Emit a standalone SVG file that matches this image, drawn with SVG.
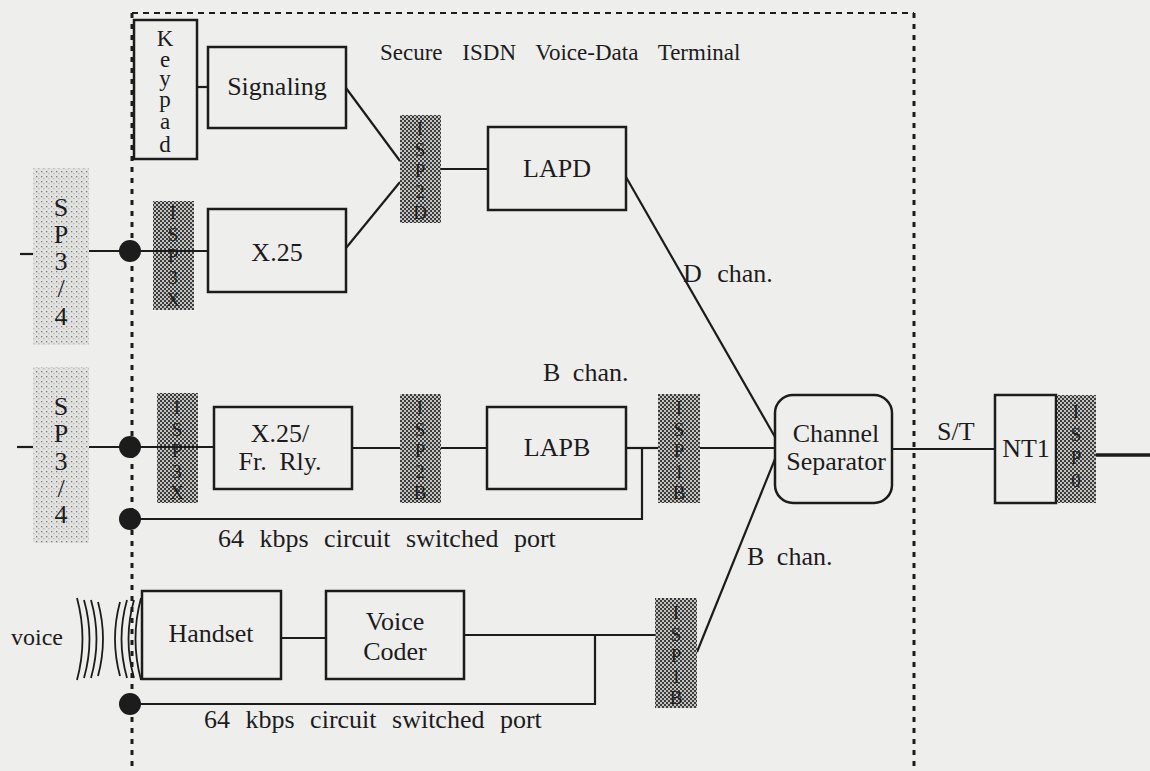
<svg xmlns="http://www.w3.org/2000/svg" width="1150" height="771" viewBox="0 0 1150 771" font-family="'Liberation Serif', 'Times New Roman', serif">
<defs>
<pattern id="dk" width="4" height="4" patternUnits="userSpaceOnUse"><rect width="4" height="4" fill="#c2c2c0"/><rect width="2" height="2" fill="#3c3c3c"/><rect x="2" y="2" width="2" height="2" fill="#3c3c3c"/></pattern>
<pattern id="lt" width="5" height="5" patternUnits="userSpaceOnUse"><rect width="5" height="5" fill="#e2e2e0"/><rect x="1" y="1" width="1.3" height="1.3" fill="#7c7c7c"/><rect x="3.4" y="3.2" width="1" height="1" fill="#9a9a9a"/></pattern>
<style>
.box{fill:none;stroke:#1c1c1c;stroke-width:2.5}
.ln{fill:none;stroke:#1c1c1c;stroke-width:2.2}
.t{font-family:"Liberation Serif","Times New Roman",serif;font-size:26px;fill:#1c1c1c}
.c{text-anchor:middle}
.isp{fill:url(#dk)}
.it{font-family:"Liberation Serif","Times New Roman",serif;font-size:19px;fill:#1e1e1e;text-anchor:middle}
.sp{fill:url(#lt)}
.st{font-family:"Liberation Serif","Times New Roman",serif;font-size:26px;fill:#1c1c1c;text-anchor:middle}
.kp{font-family:"Liberation Serif","Times New Roman",serif;font-size:23px;fill:#1c1c1c;text-anchor:middle}
.dot{fill:#1c1c1c}
</style>
</defs>
<rect width="1150" height="771" fill="#eeeeec"/>
<g id="boundary" fill="none" stroke="#1c1c1c">
<line x1="132" y1="13" x2="914" y2="13" stroke-width="2" stroke-dasharray="6 5"/>
<line x1="132" y1="13" x2="132" y2="771" stroke-width="3" stroke-dasharray="5 6"/>
<line x1="914" y1="13" x2="914" y2="771" stroke-width="3" stroke-dasharray="5 6"/>
</g>
<text id="title" class="t" x="380" y="60" style="font-size:23px" word-spacing="14">Secure ISDN Voice-Data Terminal</text>

<g id="connectors" class="ln">
<line x1="20" y1="254" x2="36" y2="254"/>
<line x1="17" y1="447" x2="36" y2="447"/>
<line x1="89" y1="251" x2="208" y2="251"/>
<line x1="89" y1="447" x2="214" y2="447"/>
<line x1="197" y1="87" x2="208" y2="87"/>
<line x1="346" y1="88" x2="400" y2="161"/>
<line x1="346" y1="248" x2="400" y2="182"/>
<line x1="441" y1="169" x2="488" y2="169"/>
<line x1="626" y1="177" x2="775" y2="437"/>
<line x1="352" y1="448" x2="400" y2="448"/>
<line x1="441" y1="448" x2="487" y2="448"/>
<line x1="626" y1="448" x2="658" y2="448"/>
<polyline points="130,519 642,519 642,448"/>
<line x1="700" y1="448" x2="775" y2="448"/>
<line x1="892" y1="449" x2="995" y2="449"/>
<line x1="1096" y1="455" x2="1150" y2="455" stroke-width="3.5"/>
<line x1="281" y1="638" x2="326" y2="638"/>
<line x1="464" y1="635" x2="655" y2="635"/>
<polyline points="130,704 595,704 595,635"/>
<line x1="697" y1="652" x2="775" y2="459"/>
</g>

<g id="voice-waves" fill="none" stroke="#1c1c1c" stroke-width="1.8">
<path d="M77 598 Q88 639 77 680"/>
<path d="M84 600 Q95 639 84 678"/>
<path d="M91 600 Q102 639 91 678"/>
<path d="M98 602 Q108 639 98 676"/>
<path d="M141 598 Q130 639 141 680"/>
<path d="M134 600 Q123 639 134 678"/>
<path d="M127 600 Q116 639 127 678"/>
<path d="M120 602 Q110 639 120 676"/>
</g>
<text id="voice" class="t" x="11" y="645" style="font-size:24px">voice</text>

<g id="sp34a"><rect class="sp" x="33" y="168" width="56" height="177"/>
<text class="st"><tspan x="61" y="216">S</tspan><tspan x="61" y="243">P</tspan><tspan x="61" y="270">3</tspan><tspan x="61" y="297">/</tspan><tspan x="61" y="325">4</tspan></text></g>
<g id="sp34b"><rect class="sp" x="33" y="367" width="56" height="176"/>
<text class="st"><tspan x="61" y="415">S</tspan><tspan x="61" y="442">P</tspan><tspan x="61" y="470">3</tspan><tspan x="61" y="497">/</tspan><tspan x="61" y="523">4</tspan></text></g>

<g id="port-dots">
<circle class="dot" cx="130" cy="251" r="11"/>
<circle class="dot" cx="130" cy="447" r="11"/>
<circle class="dot" cx="130" cy="519" r="11"/>
<circle class="dot" cx="130" cy="704" r="11"/>
</g>

<g id="keypad"><rect class="box" x="134" y="20" width="63" height="139"/>
<text class="kp"><tspan x="165" y="46">K</tspan><tspan x="165" y="67">e</tspan><tspan x="165" y="86">y</tspan><tspan x="165" y="107">p</tspan><tspan x="165" y="129">a</tspan><tspan x="165" y="152">d</tspan></text></g>
<g id="signaling"><rect class="box" x="208" y="47" width="138" height="81"/><text class="t c" x="277" y="95">Signaling</text></g>
<g id="x25"><rect class="box" x="208" y="209" width="138" height="83"/><text class="t c" x="277" y="261">X.25</text></g>
<g id="isp3x-a"><rect class="isp" x="153" y="201" width="41" height="109"/>
<text class="it"><tspan x="173" y="219">I</tspan><tspan x="173" y="241">S</tspan><tspan x="173" y="262">P</tspan><tspan x="173" y="284">3</tspan><tspan x="173" y="306">X</tspan></text>
<line x1="153" y1="251" x2="194" y2="251" stroke="#1c1c1c" stroke-width="2.2"/></g>
<g id="isp2d"><rect class="isp" x="400" y="115" width="41" height="108"/>
<text class="it"><tspan x="420" y="135">I</tspan><tspan x="420" y="156">S</tspan><tspan x="420" y="177">P</tspan><tspan x="420" y="198">2</tspan><tspan x="420" y="219">D</tspan></text></g>
<g id="lapd"><rect class="box" x="488" y="127" width="138" height="83"/><text class="t c" x="557" y="177">LAPD</text></g>

<g id="isp3x-b"><rect class="isp" x="157" y="393" width="41" height="110"/>
<text class="it"><tspan x="177" y="414">I</tspan><tspan x="177" y="436">S</tspan><tspan x="177" y="457">P</tspan><tspan x="177" y="478">3</tspan><tspan x="177" y="499">X</tspan></text>
<line x1="157" y1="447" x2="198" y2="447" stroke="#1c1c1c" stroke-width="2.2"/></g>
<g id="x25fr"><rect class="box" x="214" y="407" width="138" height="82"/>
<text class="t c"><tspan x="280" y="442">X.25/</tspan><tspan x="280" y="470" word-spacing="6">Fr. Rly.</tspan></text></g>
<g id="isp2b"><rect class="isp" x="400" y="394" width="41" height="109"/>
<text class="it"><tspan x="420" y="414">I</tspan><tspan x="420" y="436">S</tspan><tspan x="420" y="457">P</tspan><tspan x="420" y="478">2</tspan><tspan x="420" y="499">B</tspan></text></g>
<g id="lapb"><rect class="box" x="487" y="407" width="139" height="82"/><text class="t c" x="557" y="456">LAPB</text></g>
<g id="isp1b-a"><rect class="isp" x="658" y="394" width="42" height="109"/>
<text class="it"><tspan x="679" y="414">I</tspan><tspan x="679" y="436">S</tspan><tspan x="679" y="457">P</tspan><tspan x="679" y="478">1</tspan><tspan x="679" y="499">B</tspan></text></g>
<g id="channel-separator"><rect class="box" x="775" y="395" width="117" height="108" rx="18"/>
<text class="t c"><tspan x="836" y="442">Channel</tspan><tspan x="836" y="470">Separator</tspan></text></g>
<g id="nt1"><rect class="box" x="995" y="395" width="61" height="108"/><text class="t c" x="1026" y="457">NT1</text></g>
<g id="isp0"><rect class="isp" x="1057" y="395" width="39" height="108"/>
<text class="it"><tspan x="1076" y="418">I</tspan><tspan x="1076" y="441">S</tspan><tspan x="1076" y="464">P</tspan><tspan x="1076" y="487">0</tspan></text></g>

<g id="handset"><rect class="box" x="142" y="591" width="139" height="88"/><text class="t c" x="211" y="642">Handset</text></g>
<g id="voice-coder"><rect class="box" x="326" y="591" width="138" height="88"/>
<text class="t c"><tspan x="395" y="630">Voice</tspan><tspan x="395" y="660">Coder</tspan></text></g>
<g id="isp1b-b"><rect class="isp" x="655" y="598" width="42" height="110"/>
<text class="it"><tspan x="676" y="619">I</tspan><tspan x="676" y="641">S</tspan><tspan x="676" y="662">P</tspan><tspan x="676" y="683">1</tspan><tspan x="676" y="704">B</tspan></text></g>

<g id="labels">
<text class="t" x="543" y="381" word-spacing="6">B chan.</text>
<text class="t" x="683" y="282" word-spacing="9">D chan.</text>
<text class="t" x="747" y="565" word-spacing="6">B chan.</text>
<text class="t" x="937" y="440">S/T</text>
<text class="t" x="218" y="547" word-spacing="9">64 kbps circuit switched port</text>
<text class="t" x="204" y="728" word-spacing="9">64 kbps circuit switched port</text>
</g>
</svg>
